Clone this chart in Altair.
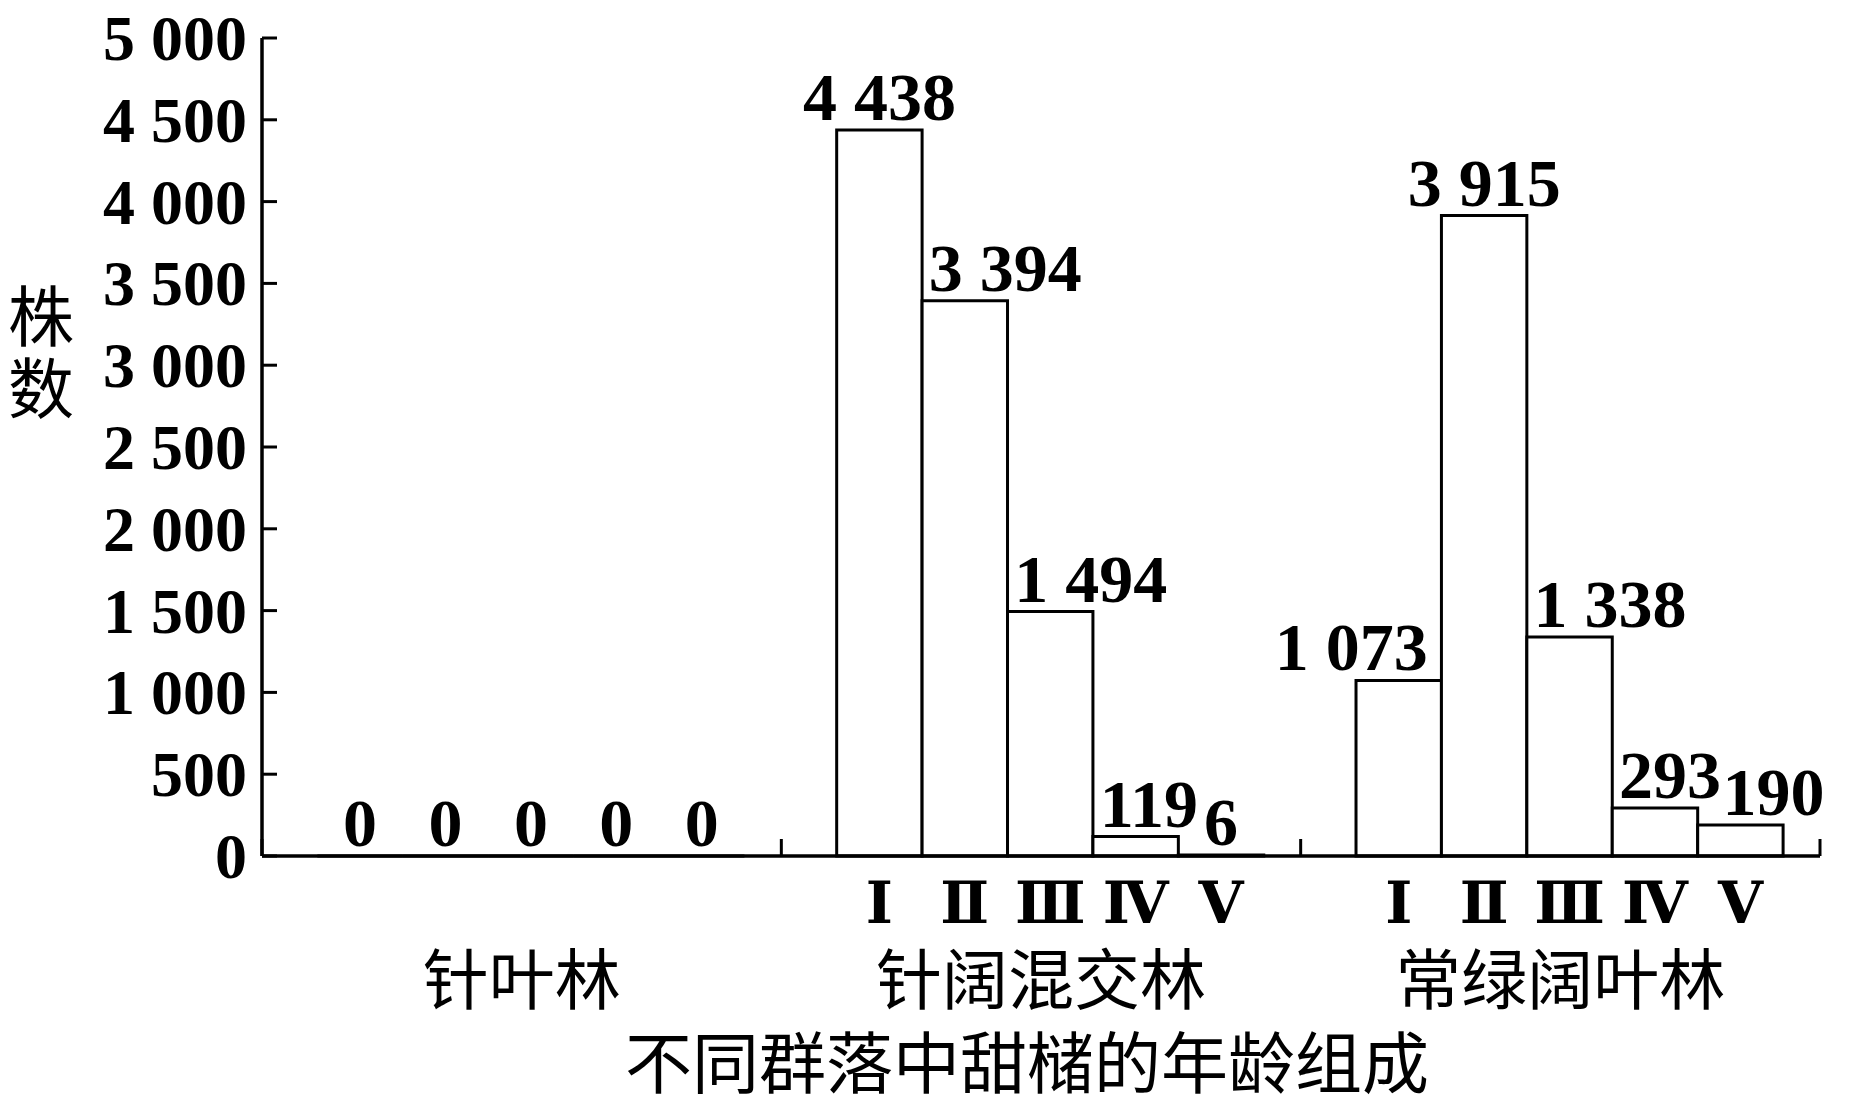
import altair as alt
import pandas as pd

# ---- data ----
groups = ["针叶林", "针阔混交林", "常绿阔叶林"]
classes = ["Ⅰ", "Ⅱ", "Ⅲ", "Ⅳ", "Ⅴ"]
conifer = [0, 0, 0, 0, 0]
mixed = [4438, 3394, 1494, 119, 6]
broadleaf = [1073, 3915, 1338, 293, 190]
y_ticks = [0, 500, 1000, 1500, 2000, 2500, 3000, 3500, 4000, 4500, 5000]
y_title = "株\n数"
x_title = "不同群落中甜槠的年龄组成"
show_class = [False, True, True]
label_side = [
    ["center", "center", "center", "center", "center"],
    ["center", "left", "left", "left", "center"],
    ["right", "center", "left", "left", "offset"],
]


def fmt(v):
    return f"{v:,}".replace(",", " ")


rows = []
for gi, (g, vals) in enumerate(zip(groups, [conifer, mixed, broadleaf])):
    for ci, (c, v) in enumerate(zip(classes, vals)):
        rows.append(dict(group=g, cls=c, value=v, label=fmt(v),
                         side=label_side[gi][ci], show=show_class[gi]))
df = pd.DataFrame(rows)
tick_df = pd.DataFrame({"group": groups})
ytick_df = pd.DataFrame({"v": y_ticks, "lab": [fmt(v) for v in y_ticks]})
one = pd.DataFrame({"k": [0]})

W, H = 1558, 818
NUM_FONT = "Liberation Serif"
CJK_FONT = "Noto Sans CJK SC"
LW = 3.5

xscale = alt.Scale(domain=groups, paddingInner=0, paddingOuter=0)
oscale = alt.Scale(domain=classes, paddingInner=0, paddingOuter=0.54, align=0.6)
yscale = alt.Scale(domain=[y_ticks[0], y_ticks[-1]], nice=False, zero=True)

X = alt.X("group:N", sort=groups, scale=xscale, axis=None)
XO = alt.XOffset("cls:N", sort=classes, scale=oscale)
Y = alt.Y("value:Q", scale=yscale, axis=None)

base = alt.Chart(df)

bars = base.mark_bar(fill="white", stroke="black", strokeWidth=3).encode(
    x=X, xOffset=XO, y=Y
)


def value_labels(side, align, dx):
    return base.transform_filter(alt.datum.side == side).mark_text(
        align=align, dx=dx, dy=-10, baseline="alphabetic", font=NUM_FONT,
        fontWeight="bold", fontSize=68, color="black",
    ).encode(x=X, xOffset=XO, y=Y, text="label:N")


lab_c = value_labels("center", "center", 0)
lab_l = value_labels("left", "left", -36)
lab_r = value_labels("right", "right", 29)
lab_o = value_labels("offset", "left", -18)

cls_labels = base.transform_filter(alt.datum.show).mark_text(
    align="center", baseline="middle", font="DejaVu Serif, " + CJK_FONT,
    fontWeight="bold", fontSize=58, color="black",
).encode(x=X, xOffset=XO, y=alt.value(H + 50), text="cls:N")

# axis lines
y_domain = alt.Chart(one).mark_rule(color="black", strokeWidth=LW).encode(
    x=alt.value(0),
    y=alt.Y(datum=y_ticks[0], scale=yscale, axis=None),
    y2=alt.Y2(datum=y_ticks[-1]),
)
x_domain = alt.Chart(one).mark_rule(color="black", strokeWidth=LW).encode(
    x=alt.value(0), x2=alt.value(W),
    y=alt.Y(datum=y_ticks[0], scale=yscale, axis=None),
)

# x ticks at group boundaries (pointing up)
x_ticks = alt.Chart(tick_df).mark_rule(color="black", strokeWidth=3).encode(
    x=alt.X("group:N", sort=groups, scale=xscale, axis=None, bandPosition=0),
    y=alt.value(H - 17), y2=alt.value(H),
)
x_tick_end = alt.Chart(tick_df).transform_filter(
    alt.datum.group == groups[-1]
).mark_rule(color="black", strokeWidth=3).encode(
    x=alt.X("group:N", sort=groups, scale=xscale, axis=None, bandPosition=1),
    y=alt.value(H - 17), y2=alt.value(H),
)

# y ticks (pointing right) and labels
y_tick_marks = alt.Chart(ytick_df).mark_rule(color="black", strokeWidth=3).encode(
    y=alt.Y("v:Q", scale=yscale, axis=None), x=alt.value(0), x2=alt.value(15),
)
y_tick_labels = alt.Chart(ytick_df).mark_text(
    align="right", baseline="middle", font=NUM_FONT, fontWeight="bold",
    fontSize=64, color="black", dy=3,
).encode(y=alt.Y("v:Q", scale=yscale, axis=None), x=alt.value(-15), text="lab:N")

group_labels = alt.Chart(tick_df).mark_text(
    align="center", baseline="middle", font=CJK_FONT, fontSize=66, color="black",
).encode(x=X, y=alt.value(H + 128), text="group:N")

x_title_mark = alt.Chart(one).mark_text(
    align="center", baseline="middle", font=CJK_FONT, fontSize=67, color="black",
).encode(x=alt.value(W / 2 - 14), y=alt.value(H + 212), text=alt.value(x_title))

y_title_mark = alt.Chart(one).mark_text(
    align="center", baseline="middle", font=CJK_FONT, fontSize=66, color="black",
    lineBreak="\n", lineHeight=72,
).encode(x=alt.value(-221), y=alt.value(283), text=alt.value(y_title))

chart = alt.layer(
    bars, lab_c, lab_l, lab_r, lab_o, cls_labels, x_ticks, x_tick_end,
    y_tick_marks, y_tick_labels, group_labels, x_title_mark, y_title_mark,
    x_domain, y_domain,
).properties(
    width=W, height=H,
    autosize=alt.AutoSizeParams(type="none"),
    padding={"left": 254, "top": 30, "right": 22, "bottom": 252},
    background="white",
).configure_view(stroke=None)

chart.save("out.html", embed_options={"renderer": "svg", "actions": False})
